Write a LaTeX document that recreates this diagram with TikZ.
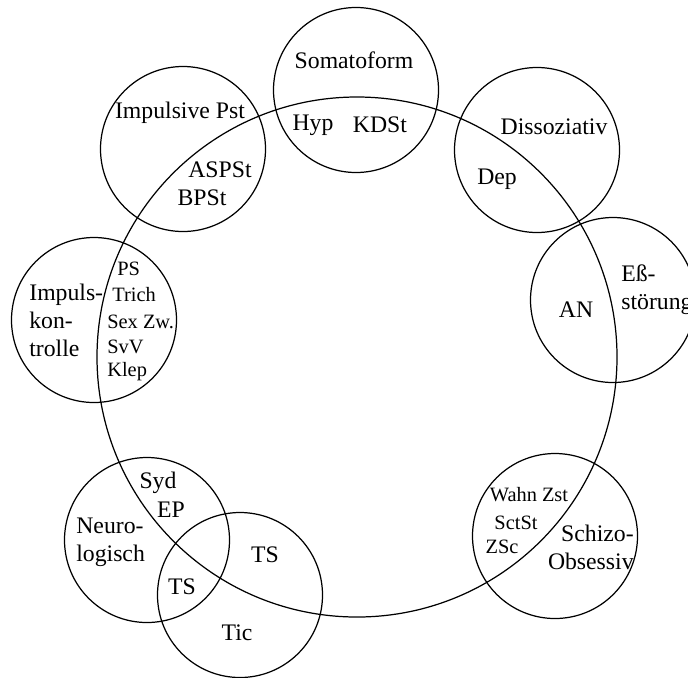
\documentclass[tikz,border=0pt]{standalone}
\usepackage{fontspec}
\setmainfont{Liberation Serif}
\tikzset{
  ring/.style={draw,line width=0.7pt},
  cluster/.style={inner sep=0pt,font=\fontsize{13.5}{16}\selectfont},
  diag/.style={inner sep=0pt,font=\fontsize{11.6}{14.7}\selectfont},
}
\begin{document}
\begin{tikzpicture}[x=0.02cm,y=-0.02cm]
\useasboundingbox (0,0) rectangle (688,677);
% Big circle
\path[ring] (357,357) circle (260);
% Groups
\foreach \cx/\cy in {356/90,183/149,537/150,613/300,94/320,147/540,240/595,555/536}{
\path[ring] (\cx,\cy) circle (82.5);
}
% Somatoform
\node[cluster] (somato) at (354,60) {Somatoform};
\node[cluster] (hyp) at (313,125) {Hyp};
\node[cluster] (kdst) at (380,125) {KDSt};
% Impulsive Pst
\node[cluster] (imppst) at (180,113) {Impulsive Pst};
\node[cluster] (aspst) at (220,170) {ASPSt};
\node[cluster] (bpst) at (202,198) {BPSt};
% Dissoziativ
\node[cluster] (dissoz) at (554,127) {Dissoziativ};
\node[cluster] (dep) at (497,179) {Dep};
% Essstoerung
\node[cluster,align=left,anchor=west] (ess) at (621,290) {Eß-\\störung};
\node[cluster] (an) at (576,310) {AN};
% Impulskontrolle
\node[cluster,align=left,anchor=west] (impkon) at (29,320) {Impuls-\\kon-\\trolle};
\node[diag,anchor=west] (ps) at (117,269) {PS};
\node[diag,anchor=west] (trich) at (112,295) {Trich};
\node[diag,anchor=west] (sexzw) at (107,322) {Sex Zw.};
\node[diag,anchor=west] (svv) at (107,347) {SvV};
\node[diag,anchor=west] (klep) at (107,372) {Klep};
% Schizo-Obsessiv
\node[cluster,align=right,anchor=east] (schizo) at (634,547) {Schizo-\\Obsessiv};
\node[diag] (wahn) at (529,495) {Wahn Zst};
\node[diag] (sctst) at (516,523) {SctSt};
\node[diag] (zsc) at (502,547) {ZSc};
% Neurologisch
\node[cluster,align=left,anchor=west] (neuro) at (76,542) {Neuro-\\logisch};
\node[cluster] (syd) at (158,483) {Syd};
\node[cluster] (ep) at (171,510) {EP};
% Tic
\node[cluster] (tsin) at (182,587) {TS};
\node[cluster] (tsout) at (265,555) {TS};
\node[cluster] (tic) at (237,633) {Tic};
\end{tikzpicture}
\end{document}
